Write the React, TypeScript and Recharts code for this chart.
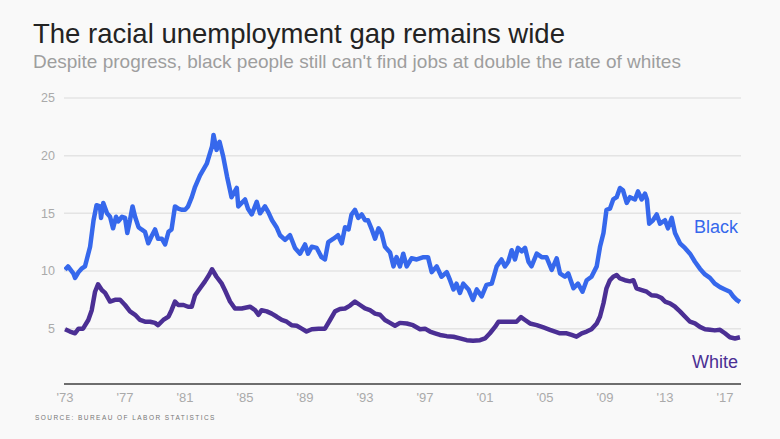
import { CartesianGrid, Line, LineChart, XAxis, YAxis } from "recharts";

// Unemployment rate (%), by decimal year
const blackYears = [
  1973.0, 1973.2, 1973.55, 1973.67, 1973.9, 1974.1, 1974.33, 1974.45, 1974.67, 1974.9,
  1975.1, 1975.33, 1975.4, 1975.55, 1975.8, 1976.0, 1976.2, 1976.4, 1976.55, 1976.8,
  1977.0, 1977.15, 1977.33, 1977.5, 1977.67, 1977.9, 1978.1, 1978.33, 1978.55, 1978.8,
  1979.0, 1979.2, 1979.45, 1979.67, 1979.9, 1980.1, 1980.33, 1980.55, 1980.8, 1981.0,
  1981.2, 1981.45, 1981.67, 1982.0, 1982.45, 1982.8, 1982.9, 1983.1, 1983.3, 1983.55,
  1983.8, 1984.0, 1984.1, 1984.45, 1984.55, 1985.0, 1985.2, 1985.45, 1985.78, 1986.0,
  1986.33, 1986.55, 1986.8, 1987.1, 1987.33, 1987.67, 1988.0, 1988.33, 1988.67, 1989.0,
  1989.2, 1989.45, 1989.78, 1990.1, 1990.33, 1990.55, 1990.9, 1991.2, 1991.45, 1991.67,
  1991.9, 1992.1, 1992.33, 1992.55, 1992.78, 1993.0, 1993.2, 1993.45, 1993.67, 1993.9,
  1994.1, 1994.33, 1994.67, 1994.9, 1995.1, 1995.33, 1995.55, 1995.78, 1996.1, 1996.45,
  1996.9, 1997.2, 1997.45, 1997.78, 1998.1, 1998.45, 1998.67, 1998.9, 1999.1, 1999.33,
  1999.55, 1999.9, 2000.2, 2000.45, 2000.78, 2001.1, 2001.45, 2001.78, 2002.1, 2002.33,
  2002.55, 2002.78, 2003.0, 2003.2, 2003.45, 2003.67, 2003.9, 2004.1, 2004.45, 2004.78,
  2005.1, 2005.45, 2005.78, 2006.0, 2006.33, 2006.55, 2006.9, 2007.2, 2007.5, 2007.78,
  2008.1, 2008.45, 2008.67, 2008.9, 2009.1, 2009.33, 2009.55, 2009.78, 2010.0, 2010.2,
  2010.45, 2010.67, 2011.0, 2011.2, 2011.45, 2011.67, 2011.8, 2011.95, 2012.2, 2012.45,
  2012.67, 2013.0, 2013.2, 2013.45, 2013.67, 2014.0, 2014.33, 2014.67, 2015.0, 2015.33,
  2015.67, 2016.0, 2016.33, 2016.67, 2017.0, 2017.33, 2017.55, 2017.78, 2018.0,
];
const blackRates = [
  10.1, 10.4, 9.8, 9.4, 9.9, 10.2, 10.4, 11.0, 12.1, 14.4,
  15.7, 15.6, 14.6, 15.9, 15.0, 14.7, 13.7, 14.7, 14.3, 14.7,
  14.6, 13.3, 14.4, 15.6, 14.7, 13.8, 13.6, 13.4, 12.4, 13.1,
  13.6, 12.8, 12.8, 12.3, 13.4, 13.6, 15.6, 15.4, 15.3, 15.3,
  15.6, 16.4, 17.3, 18.3, 19.3, 20.8, 21.8, 20.5, 21.2, 19.9,
  18.2, 17.0, 16.4, 17.2, 15.6, 16.2, 15.4, 14.9, 16.0, 15.0,
  15.6, 15.1, 14.4, 13.8, 13.1, 12.7, 13.1, 12.0, 11.5, 12.3,
  11.5, 12.1, 12.0, 11.2, 11.0, 12.5, 12.8, 13.1, 12.4, 13.8,
  13.6, 14.9, 15.3, 14.6, 14.9, 14.4, 14.4, 13.6, 12.8, 13.7,
  13.3, 12.1, 11.6, 10.4, 11.2, 10.4, 11.5, 10.4, 11.1, 11.0,
  11.2, 11.2, 9.9, 10.4, 9.5, 9.9, 9.2, 8.4, 8.9, 8.1,
  8.9, 8.4, 7.5, 8.4, 7.8, 8.8, 8.9, 10.4, 11.0, 10.4,
  10.8, 11.8, 11.0, 12.0, 11.7, 12.0, 10.8, 10.4, 11.5, 11.2,
  11.2, 10.1, 11.1, 9.8, 9.5, 9.8, 8.5, 8.9, 8.2, 9.2,
  9.5, 10.4, 12.1, 13.3, 15.3, 15.4, 16.2, 16.4, 17.2, 17.0,
  15.9, 16.4, 16.2, 16.9, 16.2, 16.7, 16.2, 14.1, 14.4, 14.9,
  14.1, 14.4, 13.7, 14.6, 13.3, 12.4, 12.0, 11.5, 10.8, 10.2,
  9.7, 9.4, 8.9, 8.6, 8.4, 8.2, 7.8, 7.5, 7.3,
];

const whiteYears = [
  1973.0, 1973.33, 1973.67, 1973.9, 1974.2, 1974.55, 1974.78, 1975.0, 1975.2, 1975.45,
  1975.67, 1976.0, 1976.33, 1976.67, 1977.0, 1977.33, 1977.67, 1978.0, 1978.33, 1978.67,
  1979.0, 1979.2, 1979.55, 1979.9, 1980.1, 1980.33, 1980.55, 1980.9, 1981.2, 1981.45,
  1981.67, 1982.0, 1982.33, 1982.6, 1982.8, 1983.1, 1983.45, 1983.67, 1984.0, 1984.33,
  1984.78, 1985.33, 1985.67, 1985.9, 1986.1, 1986.45, 1986.78, 1987.1, 1987.45, 1987.78,
  1988.1, 1988.45, 1988.78, 1989.1, 1989.45, 1989.9, 1990.33, 1990.67, 1991.0, 1991.33,
  1991.67, 1992.0, 1992.33, 1992.67, 1993.0, 1993.33, 1993.67, 1994.0, 1994.33, 1994.67,
  1995.0, 1995.33, 1995.78, 1996.2, 1996.67, 1997.0, 1997.33, 1997.67, 1998.0, 1998.45,
  1998.9, 1999.33, 1999.78, 2000.2, 2000.67, 2001.0, 2001.33, 2001.67, 2001.9, 2002.2,
  2002.67, 2003.1, 2003.4, 2003.67, 2004.0, 2004.45, 2004.9, 2005.33, 2005.67, 2006.0,
  2006.45, 2006.78, 2007.1, 2007.45, 2007.78, 2008.1, 2008.45, 2008.67, 2008.9, 2009.1,
  2009.33, 2009.55, 2009.78, 2010.0, 2010.33, 2010.67, 2010.9, 2011.1, 2011.45, 2011.78,
  2012.1, 2012.45, 2012.78, 2013.0, 2013.33, 2013.67, 2014.0, 2014.33, 2014.67, 2015.0,
  2015.33, 2015.67, 2016.0, 2016.33, 2016.67, 2017.0, 2017.33, 2017.67, 2018.0,
];
const whiteRates = [
  4.95, 4.75, 4.6, 5.0, 5.0, 5.75, 6.6, 8.2, 8.85, 8.35,
  8.1, 7.35, 7.5, 7.5, 7.05, 6.5, 6.2, 5.75, 5.6, 5.6,
  5.5, 5.3, 5.75, 6.05, 6.6, 7.35, 7.05, 7.05, 6.9, 6.9,
  7.9, 8.5, 9.1, 9.65, 10.15, 9.5, 8.9, 8.3, 7.35, 6.75,
  6.75, 6.9, 6.6, 6.2, 6.6, 6.5, 6.3, 6.05, 5.75, 5.6,
  5.3, 5.25, 5.0, 4.75, 4.95, 5.0, 5.0, 5.75, 6.5, 6.7,
  6.75, 7.0, 7.35, 7.05, 6.75, 6.6, 6.3, 6.2, 5.75, 5.5,
  5.25, 5.5, 5.45, 5.3, 4.95, 5.0, 4.75, 4.6, 4.45, 4.35,
  4.3, 4.15, 4.0, 3.95, 4.0, 4.15, 4.6, 5.15, 5.6, 5.6,
  5.6, 5.6, 6.0, 5.75, 5.45, 5.3, 5.1, 4.9, 4.75, 4.6,
  4.6, 4.45, 4.3, 4.6, 4.75, 4.95, 5.45, 6.05, 7.2, 8.5,
  9.2, 9.5, 9.65, 9.35, 9.2, 9.1, 9.2, 8.5, 8.35, 8.2,
  7.9, 7.85, 7.65, 7.35, 7.2, 6.9, 6.5, 6.05, 5.6, 5.45,
  5.15, 4.95, 4.9, 4.85, 4.9, 4.6, 4.25, 4.15, 4.25,
];

const xTicks = [1973, 1977, 1981, 1985, 1989, 1993, 1997, 2001, 2005, 2009, 2013, 2017];
const yTicks = [5, 10, 15, 20, 25];

const blackData = blackYears.map((year, i) => ({ year, rate: blackRates[i] }));
const whiteData = whiteYears.map((year, i) => ({ year, rate: whiteRates[i] }));

const FONT = '"Liberation Sans", Arial, Helvetica, sans-serif';
const BLACK_COLOR = "#3668ec";
const WHITE_COLOR = "#4b2f94";

export default function App() {
  return (
    <div
      style={{
        position: "absolute",
        left: 0,
        top: 0,
        width: 780,
        height: 439,
        background: "#f9f9f9",
        fontFamily: FONT,
        overflow: "hidden",
      }}
    >
      <LineChart
        width={780}
        height={439}
        margin={{ top: 98, right: 39, bottom: 0, left: 0 }}
        style={{ position: "absolute", left: 0, top: 0 }}
      >
        <CartesianGrid vertical={false} stroke="#e4e4e4" strokeWidth={1.5} />
        <XAxis
          dataKey="year"
          type="number"
          domain={[1972.93, 2018.07]}
          allowDataOverflow
          ticks={xTicks}
          tickFormatter={(v: number) => "'" + String(v).slice(2)}
          axisLine={{ stroke: "#444", strokeWidth: 1.5 }}
          tickLine={false}
          tickSize={0}
          tickMargin={9}
          tick={{ fill: "#aaa", fontSize: 13, fontFamily: FONT }}
          height={55}
        />
        <YAxis
          type="number"
          domain={[0.2, 25]}
          allowDataOverflow
          ticks={yTicks}
          axisLine={false}
          tickLine={false}
          tickSize={0}
          tickMargin={9}
          width={64}
          tick={{ fill: "#aaa", fontSize: 12.5, fontFamily: FONT }}
        />
        <Line
          data={blackData}
          dataKey="rate"
          type="linear"
          stroke={BLACK_COLOR}
          strokeWidth={4.5}
          strokeLinejoin="round"
          dot={false}
          isAnimationActive={false}
        />
        <Line
          data={whiteData}
          dataKey="rate"
          type="linear"
          stroke={WHITE_COLOR}
          strokeWidth={4.5}
          strokeLinejoin="round"
          dot={false}
          isAnimationActive={false}
        />
      </LineChart>

      <svg
        width={780}
        height={439}
        style={{ position: "absolute", left: 0, top: 0, pointerEvents: "none" }}
      >
        <text x={33} y={43} fontSize={27.5} fill="#232323" fontFamily={FONT}>
          The racial unemployment gap remains wide
        </text>
        <text x={33} y={68} fontSize={19} fill="#9e9e9e" fontFamily={FONT}>
          Despite progress, black people still can't find jobs at double the rate of whites
        </text>
        <text x={738} y={233} fontSize={18} fill={BLACK_COLOR} textAnchor="end" fontFamily={FONT}>
          Black
        </text>
        <text x={738} y={368} fontSize={18} fill={WHITE_COLOR} textAnchor="end" fontFamily={FONT}>
          White
        </text>
        <text
          x={35}
          y={419.5}
          fontSize={6.5}
          fill="#777"
          letterSpacing={1.45}
          fontFamily={FONT}
        >
          SOURCE: BUREAU OF LABOR STATISTICS
        </text>
      </svg>
    </div>
  );
}
